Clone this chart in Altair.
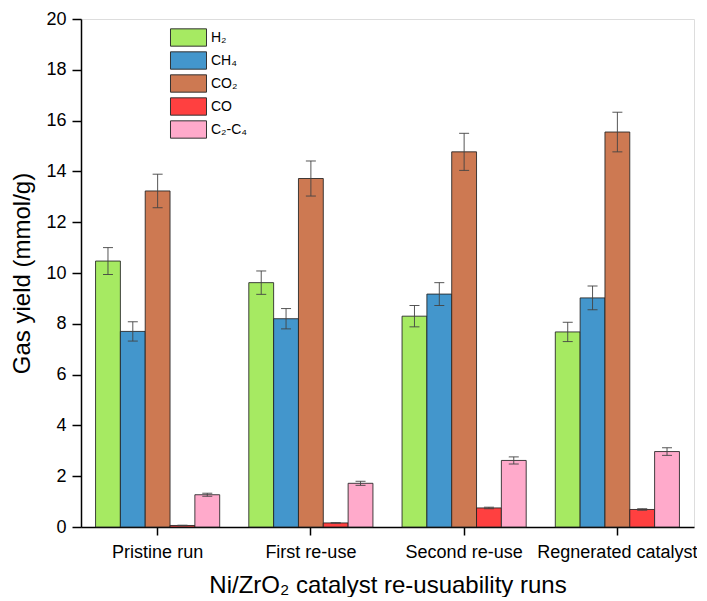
import altair as alt
import pandas as pd

runs = ["Pristine run", "First re-use", "Second re-use", "Regnerated catalyst"]
gases = ["H₂", "CH₄", "CO₂", "CO", "C₂-C₄"]
colors = ["#A6EA62", "#4396CC", "#CD7952", "#FF4040", "#FFAACB"]

h2 = [10.47, 9.62, 8.30, 7.68]
ch4 = [7.70, 8.20, 9.17, 9.02]
co2 = [13.23, 13.72, 14.77, 15.55]
co = [0.06, 0.16, 0.75, 0.69]
c2c4 = [1.27, 1.72, 2.62, 2.97]

h2_err = [0.53, 0.46, 0.42, 0.38]
ch4_err = [0.38, 0.40, 0.45, 0.47]
co2_err = [0.66, 0.69, 0.73, 0.78]
co_err = [0.01, 0.01, 0.03, 0.03]
c2c4_err = [0.06, 0.08, 0.14, 0.15]

series = [h2, ch4, co2, co, c2c4]
errs = [h2_err, ch4_err, co2_err, co_err, c2c4_err]

rows = []
for g, vals, es in zip(gases, series, errs):
    for r, v, e in zip(runs, vals, es):
        rows.append({"run": r, "gas": g, "value": v, "lo": v - e, "hi": v + e})
df = pd.DataFrame(rows)

FONT = "Liberation Sans"

x = alt.X("run:N", sort=runs,
          scale=alt.Scale(paddingInner=0.19, paddingOuter=0.095),
          axis=alt.Axis(title="Ni/ZrO₂ catalyst re-usuability runs", labelAngle=0,
                        labelFontSize=18, titleFontSize=24, titleFontWeight="normal",
                        tickSize=8, labelPadding=8, titlePadding=12,
                        domainColor="black", tickColor="black", domainWidth=1.5,
                        tickWidth=1.5, labelColor="black", titleColor="black"))
xo = alt.XOffset("gas:N", sort=gases, scale=alt.Scale(paddingInner=0, paddingOuter=0))

yscale = alt.Scale(domain=[0, 20], nice=False)

bars = alt.Chart(df).mark_bar(stroke="#222222", strokeWidth=1, strokeOpacity=0.85).encode(
    x=x, xOffset=xo,
    y=alt.Y("value:Q", scale=yscale,
            axis=alt.Axis(title="Gas yield (mmol/g)", values=list(range(0, 21)),
                          labelExpr="datum.value % 2 === 0 ? datum.label : ''",
                          tickSize={"condition": {"test": "datum.value % 2 === 0", "value": 9}, "value": 5},
                          labelFontSize=18, titleFontSize=24, titleFontWeight="normal",
                          grid=False, labelPadding=6, titlePadding=11,
                          domainColor="black", tickColor="black", domainWidth=1.5,
                          tickWidth=1.5, labelColor="black", titleColor="black")),
    color=alt.Color("gas:N", sort=gases,
                    scale=alt.Scale(domain=gases, range=colors),
                    legend=alt.Legend(title=None, orient="none", legendX=98, legendY=9,
                                      symbolType="M-2.08,-1H2.08V1H-2.08Z",
                                      symbolSize=300, symbolStrokeColor="#333333",
                                      symbolStrokeWidth=1, symbolOpacity=1,
                                      labelFontSize=14, labelOffset=13, rowPadding=0,
                                      labelColor="black")),
)

rules = alt.Chart(df).mark_rule(color="#444444", strokeWidth=1, opacity=0.9).encode(
    x=x, xOffset=xo, y=alt.Y("lo:Q", scale=yscale), y2="hi:Q")

caps_hi = alt.Chart(df).mark_tick(color="#444444", thickness=1, size=10, opacity=0.9).encode(
    x=x, xOffset=xo, y=alt.Y("hi:Q", scale=yscale))
caps_lo = alt.Chart(df).mark_tick(color="#444444", thickness=1, size=10, opacity=0.9).encode(
    x=x, xOffset=xo, y=alt.Y("lo:Q", scale=yscale))

chart = alt.layer(bars, rules, caps_hi, caps_lo).properties(
    width=613, height=508,
    padding={"left": 2, "top": 2, "right": 0, "bottom": 0},
).configure_view(stroke="black", strokeWidth=1.5).configure(font=FONT)

chart.save("out.html", embed_options={"renderer": "svg", "actions": False})
